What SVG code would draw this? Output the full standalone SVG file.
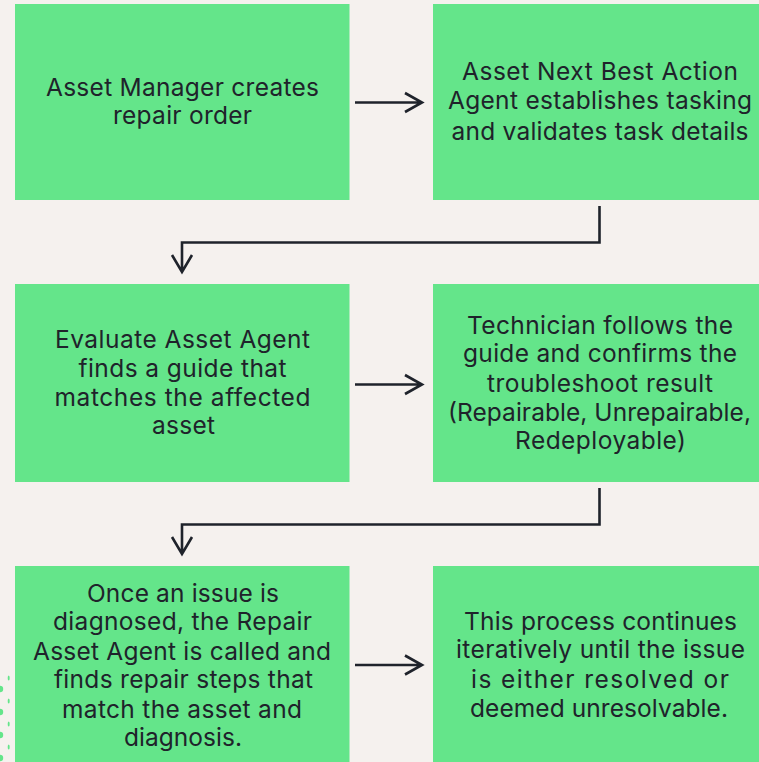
<svg xmlns="http://www.w3.org/2000/svg" width="759" height="762" viewBox="0 0 759 762">
<style>
.n{fill:#64e58a}
text{font-family:"Inter","Liberation Sans",sans-serif;font-size:24.5px;fill:#1f232b;text-anchor:middle}
.c{fill:none;stroke:#1f232b;stroke-width:2.6}
.d{fill:#64e58a}
</style>
<rect width="759" height="762" fill="#f5f1ee"/>
<g id="dots"><circle class="d" cx="0" cy="689" r="3.2"/><circle class="d" cx="0" cy="712" r="3.2"/><circle class="d" cx="0" cy="735" r="3.2"/><circle class="d" cx="0" cy="758" r="3.2"/><ellipse class="d" cx="8.7" cy="678" rx="1" ry="2.6"/><ellipse class="d" cx="8.7" cy="701" rx="1" ry="2.6"/><ellipse class="d" cx="8.7" cy="724" rx="1" ry="2.6"/><ellipse class="d" cx="8.7" cy="747" rx="1" ry="2.6"/></g>
<g id="n1"><rect class="n" x="15" y="4" width="334.500" height="196"/><text x="182.500" y="95.500" textLength="273">Asset Manager creates</text><text x="182.500" y="123.500" textLength="139">repair order</text></g>
<g id="n2"><rect class="n" x="433" y="4" width="326" height="196"/><text x="600" y="80" textLength="276">Asset Next Best Action</text><text x="600" y="108.500" textLength="304">Agent establishes tasking</text><text x="600" y="139.500" textLength="297">and validates task details</text></g>
<g id="n3"><rect class="n" x="15" y="284" width="334.500" height="198"/><text x="182.500" y="348" textLength="255">Evaluate Asset Agent</text><text x="182.500" y="377" textLength="208">finds a guide that</text><text x="182.500" y="406" textLength="256">matches the affected</text><text x="183.500" y="434" textLength="63">asset</text></g>
<g id="n4"><rect class="n" x="433" y="284" width="326" height="198"/><text x="600" y="334" textLength="266">Technician follows the</text><text x="600" y="362" textLength="274">guide and confirms the</text><text x="600" y="392" textLength="226">troubleshoot result</text><text x="599.500" y="421" textLength="303">(Repairable, Unrepairable,</text><text x="600.500" y="449" textLength="171">Redeployable)</text></g>
<g id="n5"><rect class="n" x="15" y="566" width="334.500" height="196"/><text x="183" y="602" textLength="192">Once an issue is</text><text x="182.500" y="630" textLength="259">diagnosed, the Repair</text><text x="182" y="660" textLength="298">Asset Agent is called and</text><text x="183.500" y="688" textLength="259">finds repair steps that</text><text x="182" y="718" textLength="240">match the asset and</text><text x="183" y="746" textLength="118">diagnosis.</text></g>
<g id="n6"><rect class="n" x="433" y="566" width="326" height="196"/><text x="600.500" y="630" textLength="273">This process continues</text><text x="600.500" y="658" textLength="289">iteratively until the issue</text><text x="600" y="688" textLength="258">is either resolved or</text><text x="599" y="717" textLength="258">deemed unresolvable.</text></g>
<g id="connectors">
<path class="c" d="M355 102.500H422M405 93L422 102.500L405 112"/>
<path class="c" d="M599.500 206V242.500H182V272M172 255L182 272L192 255"/>
<path class="c" d="M355 384.500H422M405 375L422 384.500L405 394"/>
<path class="c" d="M599.500 488V524.500H182V554M172 537L182 554L192 537"/>
<path class="c" d="M355 665H422M405 655.500L422 665L405 674.500"/>
</g>
</svg>
